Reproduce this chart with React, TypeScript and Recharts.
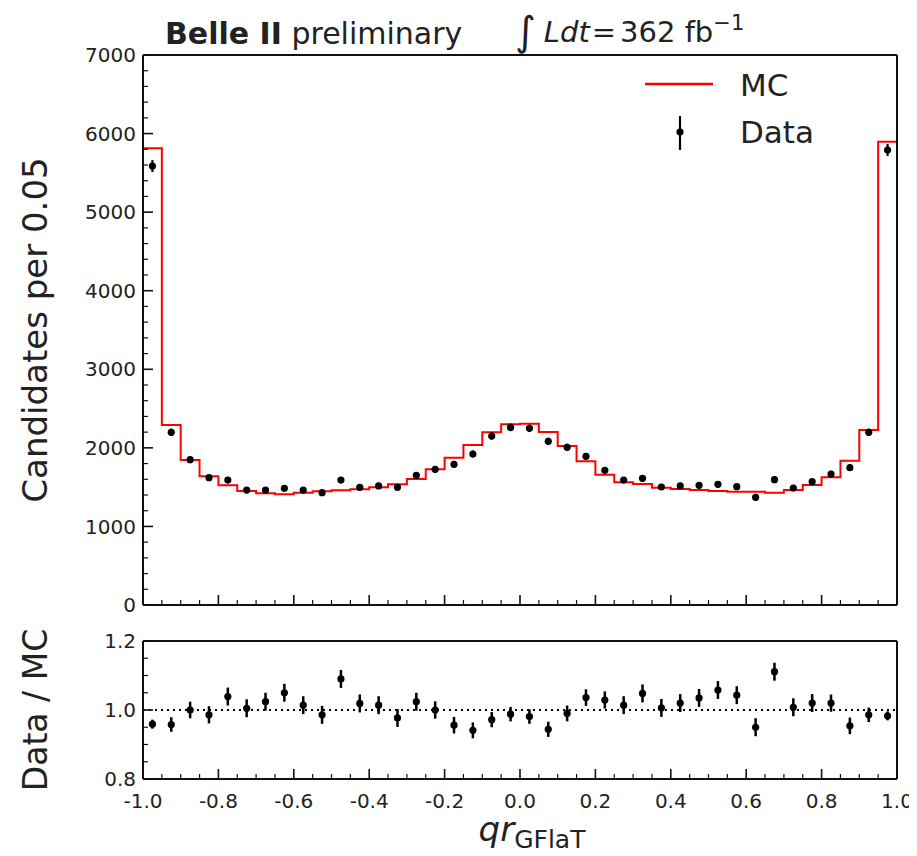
import React from 'react';
import { ComposedChart, Line, Scatter, XAxis, YAxis, ErrorBar, ReferenceLine, Legend } from 'recharts';

// bin lower edges (qr_GFlaT), width 0.05
const binLow = [-1.0, -0.95, -0.9, -0.85, -0.8, -0.75, -0.7, -0.65, -0.6, -0.55, -0.5, -0.45, -0.4, -0.35, -0.3, -0.25, -0.2, -0.15, -0.1, -0.05,
  0.0, 0.05, 0.1, 0.15, 0.2, 0.25, 0.3, 0.35, 0.4, 0.45, 0.5, 0.55, 0.6, 0.65, 0.7, 0.75, 0.8, 0.85, 0.9, 0.95];
const binUpperLast = 1.0;

const mcCounts = [5812, 2290, 1845, 1640, 1523, 1450, 1421, 1409, 1430, 1447, 1460, 1472, 1498, 1536, 1604, 1727, 1875, 2036, 2198, 2300,
  2307, 2202, 2024, 1829, 1659, 1561, 1540, 1493, 1476, 1463, 1450, 1442, 1442, 1430, 1463, 1527, 1625, 1837, 2228, 5897];

const dataCounts = [5587, 2198, 1850, 1620, 1590, 1463, 1463, 1485, 1463, 1430, 1590, 1498, 1515, 1498, 1650, 1727, 1790, 1922, 2150, 2260,
  2248, 2083, 2007, 1892, 1714, 1590, 1612, 1502, 1515, 1523, 1536, 1506, 1370, 1595, 1489, 1570, 1667, 1748, 2198, 5791];

const dataErrors = [75, 47, 43, 40, 40, 38, 38, 39, 38, 38, 40, 39, 39, 39, 41, 42, 42, 44, 46, 48,
  47, 46, 45, 43, 41, 40, 40, 39, 39, 39, 39, 39, 37, 40, 39, 40, 41, 42, 47, 76];

const ratioValues = [0.959, 0.958, 1.0, 0.986, 1.039, 1.005, 1.024, 1.05, 1.014, 0.986, 1.09, 1.019, 1.014, 0.977, 1.024, 1.0, 0.956, 0.941, 0.972, 0.988,
  0.981, 0.944, 0.99, 1.036, 1.029, 1.014, 1.048, 1.006, 1.02, 1.035, 1.058, 1.043, 0.95, 1.111, 1.008, 1.02, 1.02, 0.954, 0.986, 0.983];

const ratioErrors = [0.013, 0.021, 0.024, 0.025, 0.026, 0.026, 0.026, 0.026, 0.026, 0.026, 0.026, 0.026, 0.026, 0.026, 0.026, 0.025, 0.024, 0.023, 0.022, 0.021,
  0.021, 0.022, 0.023, 0.024, 0.025, 0.026, 0.026, 0.026, 0.026, 0.026, 0.026, 0.026, 0.026, 0.026, 0.026, 0.026, 0.025, 0.024, 0.021, 0.013];

const xTicks = [-1.0, -0.95, -0.9, -0.85, -0.8, -0.75, -0.7, -0.65, -0.6, -0.55, -0.5, -0.45, -0.4, -0.35, -0.3, -0.25, -0.2, -0.15, -0.1, -0.05,
  0.0, 0.05, 0.1, 0.15, 0.2, 0.25, 0.3, 0.35, 0.4, 0.45, 0.5, 0.55, 0.6, 0.65, 0.7, 0.75, 0.8, 0.85, 0.9, 0.95, 1.0];
const xMajorTicks = [-1.0, -0.8, -0.6, -0.4, -0.2, 0.0, 0.2, 0.4, 0.6, 0.8, 1.0];

const yTopTicks = [0, 200, 400, 600, 800, 1000, 1200, 1400, 1600, 1800, 2000, 2200, 2400, 2600, 2800, 3000, 3200, 3400, 3600, 3800,
  4000, 4200, 4400, 4600, 4800, 5000, 5200, 5400, 5600, 5800, 6000, 6200, 6400, 6600, 6800, 7000];
const yTopMajor = [0, 1000, 2000, 3000, 4000, 5000, 6000, 7000];

const yRatioTicks = [0.8, 0.85, 0.9, 0.95, 1.0, 1.05, 1.1, 1.15, 1.2];
const yRatioMajor = [0.8, 1.0, 1.2];

const mcStep = [...binLow.map((x, i) => ({ x, mc: mcCounts[i] })), { x: binUpperLast, mc: mcCounts[mcCounts.length - 1] }];
const dataPoints = binLow.map((x, i) => ({ x: x + 0.025, y: dataCounts[i], err: dataErrors[i] }));
const ratioPoints = binLow.map((x, i) => ({ x: x + 0.025, y: ratioValues[i], err: ratioErrors[i] }));

const isIn = (arr: number[], v: number) => arr.some((a) => Math.abs(a - v) < 1e-9);

const TICK_MARGIN = 6;
const SPINE = '#111';
const FONT = '"DejaVu Sans", sans-serif';

const leftTick = (major: number[], fmt: (v: number) => string) => (props: any) => {
  const { x, y, payload } = props;
  const v = payload.value;
  const ax = x + TICK_MARGIN;
  const isMajor = isIn(major, v);
  return (
    <g>
      <line x1={ax} x2={ax + (isMajor ? 10 : 5)} y1={y} y2={y} stroke={SPINE} strokeWidth={isMajor ? 1.6 : 1.2} />
      {isMajor && (
        <text x={x - 1} y={y} dy="0.36em" textAnchor="end" fontSize={20} fill="#222" fontFamily={FONT}>
          {fmt(v)}
        </text>
      )}
    </g>
  );
};

const bottomTick = (showLabel: boolean) => (props: any) => {
  const { x, y, payload } = props;
  const v = payload.value;
  const ay = y - TICK_MARGIN;
  const isMajor = isIn(xMajorTicks, v);
  return (
    <g>
      <line x1={x} x2={x} y1={ay} y2={ay - (isMajor ? 10 : 5)} stroke={SPINE} strokeWidth={isMajor ? 1.6 : 1.2} />
      {showLabel && isMajor && (
        <text x={x} y={ay + 29} textAnchor="middle" fontSize={20} fill="#222" fontFamily={FONT}>
          {v.toFixed(1)}
        </text>
      )}
    </g>
  );
};

const Dot = (props: any) => <circle cx={props.cx} cy={props.cy} r={3.6} fill="#000" />;

const YLabel = (text: string, size: number) => (props: any) => {
  const vb = props.viewBox || {};
  const cx = vb.x + 35;
  const cy = vb.y + vb.height / 2;
  return (
    <text x={cx} y={cy} transform={`rotate(-90, ${cx}, ${cy})`} textAnchor="middle" dominantBaseline="central" fontSize={size} fill="#222" fontFamily={FONT}>
      {text}
    </text>
  );
};

const XLabel = (props: any) => {
  const vb = props.viewBox || {};
  const cx = vb.x + vb.width / 2 + 12;
  const by = vb.y + 62;
  return (
    <text x={cx} y={by} textAnchor="middle" fill="#222" fontFamily={FONT}>
      <tspan fontSize={34} fontStyle="italic">qr</tspan>
      <tspan fontSize={25} dy={7}>GFlaT</tspan>
    </text>
  );
};

const LegendBox = () => (
  <svg width={230} height={110} style={{ overflow: 'visible' }}>
    <line x1={15} x2={83} y1={29} y2={29} stroke="#ff0000" strokeWidth={2.5} />
    <text x={110} y={41} fontSize={31} fill="#222" fontFamily={FONT}>MC</text>
    <line x1={50} x2={50} y1={61} y2={95} stroke="#000" strokeWidth={2.2} />
    <circle cx={50} cy={77} r={3.6} fill="#000" />
    <text x={110} y={88} fontSize={31} fill="#222" fontFamily={FONT}>Data</text>
  </svg>
);

export default function App() {
  return (
    <div style={{ position: 'relative', width: 917, height: 856, margin: -8, fontFamily: FONT, background: '#fff' }}>
      <svg width={917} height={62} style={{ position: 'absolute', left: 0, top: 0, overflow: 'visible' }}>
        <text x={165} y={44} fontSize={30} fill="#222" fontFamily={FONT}>
          <tspan fontWeight="bold">Belle II</tspan>
          <tspan> preliminary</tspan>
        </text>
        <text x={515} y={42} fontSize={29} fill="#222" fontFamily={FONT}>
          <tspan fontSize={40} dy={3}>∫</tspan>
          <tspan dx={8} dy={-3} fontStyle="italic">Ldt</tspan>
          <tspan dx={2}>=</tspan>
          <tspan dx={4}>362 fb</tspan>
          <tspan fontSize={21} dy={-12}>−1</tspan>
        </text>
      </svg>

      <div style={{ position: 'absolute', left: 0, top: 0 }}>
        <ComposedChart width={917} height={620} margin={{ top: 55, right: 20, bottom: 0, left: 0 }}>
          <XAxis
            type="number"
            dataKey="x"
            domain={[-1, 1]}
            ticks={xTicks}
            interval={0}
            tickSize={0}
            tickMargin={TICK_MARGIN}
            tickLine={false}
            tick={bottomTick(false)}
            height={15}
            allowDataOverflow
            axisLine={{ stroke: SPINE, strokeWidth: 2 }}
          />
          <YAxis
            type="number"
            domain={[0, 7000]}
            ticks={yTopTicks}
            interval={0}
            tickSize={0}
            tickMargin={TICK_MARGIN}
            tickLine={false}
            tick={leftTick(yTopMajor, (v) => String(v))}
            width={143}
            allowDataOverflow
            axisLine={{ stroke: SPINE, strokeWidth: 2 }}
            label={{ content: YLabel('Candidates per 0.05', 34) }}
          />
          <Line data={mcStep} type="stepAfter" dataKey="mc" stroke="#ff0000" strokeWidth={2} dot={false} isAnimationActive={false} />
          <Scatter data={dataPoints} dataKey="y" shape={Dot} isAnimationActive={false}>
            <ErrorBar dataKey="err" direction="y" width={0} stroke="#000" strokeWidth={2.2} isAnimationActive={false} />
          </Scatter>
          <ReferenceLine y={7000} stroke={SPINE} strokeWidth={2} ifOverflow="visible" />
          <ReferenceLine x={1} stroke={SPINE} strokeWidth={2} ifOverflow="visible" />
          <Legend
            layout="horizontal"
            verticalAlign="middle"
            align="center"
            wrapperStyle={{ left: 630, top: 55, width: 230, height: 110 }}
            content={LegendBox}
          />
        </ComposedChart>
      </div>

      <div style={{ position: 'absolute', left: 0, top: 620 }}>
        <ComposedChart width={917} height={236} margin={{ top: 21, right: 20, bottom: 0, left: 0 }}>
          <XAxis
            type="number"
            dataKey="x"
            domain={[-1, 1]}
            ticks={xTicks}
            interval={0}
            tickSize={0}
            tickMargin={TICK_MARGIN}
            tickLine={false}
            tick={bottomTick(true)}
            height={77}
            allowDataOverflow
            axisLine={{ stroke: SPINE, strokeWidth: 2 }}
            label={{ content: XLabel }}
          />
          <YAxis
            type="number"
            domain={[0.8, 1.2]}
            ticks={yRatioTicks}
            interval={0}
            tickSize={0}
            tickMargin={TICK_MARGIN}
            tickLine={false}
            tick={leftTick(yRatioMajor, (v) => v.toFixed(1))}
            width={143}
            allowDataOverflow
            axisLine={{ stroke: SPINE, strokeWidth: 2 }}
            label={{ content: YLabel('Data / MC', 33) }}
          />
          <ReferenceLine y={1} stroke="#000" strokeWidth={1.8} strokeDasharray="2 4" />
          <ReferenceLine y={1.2} stroke={SPINE} strokeWidth={2} ifOverflow="visible" />
          <ReferenceLine x={1} stroke={SPINE} strokeWidth={2} ifOverflow="visible" />
          <Scatter data={ratioPoints} dataKey="y" shape={Dot} isAnimationActive={false}>
            <ErrorBar dataKey="err" direction="y" width={0} stroke="#000" strokeWidth={2.5} isAnimationActive={false} />
          </Scatter>
        </ComposedChart>
      </div>
    </div>
  );
}
